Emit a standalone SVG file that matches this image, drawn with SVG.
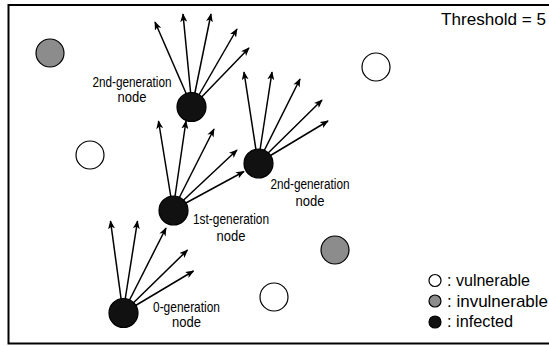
<svg xmlns="http://www.w3.org/2000/svg" width="549" height="346" viewBox="0 0 549 346">
<style>
.lbl{font-family:"Liberation Sans Narrow","Liberation Sans",Arial,sans-serif;font-size:14px;fill:#000}
.big{font-family:"Liberation Sans Narrow","Liberation Sans",Arial,sans-serif;font-size:17px;fill:#000}
.inf{fill:#111;stroke:#000;stroke-width:1.2}
.vul{fill:#fff;stroke:#000;stroke-width:1.2}
.inv{fill:#8c8c8c;stroke:#000;stroke-width:1.2}
.arr{stroke:#000;stroke-width:1.5;fill:none;marker-end:url(#ah)}
</style>
<defs>
<marker id="ah" viewBox="0 0 10 8" refX="9" refY="4" markerWidth="9" markerHeight="7" markerUnits="userSpaceOnUse" orient="auto">
<path d="M0,0 L10,4 L0,8 L2.5,4 Z" fill="#000"/>
</marker>
</defs>
<rect width="549" height="346" fill="#fff"/>
<path d="M549,5 H8.5 V343.5 H549" fill="none" stroke="#000" stroke-width="2"/>
<text class="big" x="441" y="25" textLength="105" lengthAdjust="spacingAndGlyphs">Threshold = 5</text>
<g id="connectors">
<line class="arr" x1="123" y1="313" x2="110.5" y2="221"/>
<line class="arr" x1="123" y1="313" x2="137.5" y2="221"/>
<line class="arr" x1="123" y1="313" x2="166" y2="228"/>
<line class="arr" x1="123" y1="313" x2="187.5" y2="250"/>
<line class="arr" x1="123" y1="313" x2="193.5" y2="271"/>
<line class="arr" x1="173" y1="210" x2="158.5" y2="121"/>
<line class="arr" x1="173" y1="210" x2="186" y2="121"/>
<line class="arr" x1="173" y1="210" x2="214" y2="129"/>
<line class="arr" x1="173" y1="210" x2="237" y2="150"/>
<line class="arr" x1="173" y1="210" x2="244" y2="171.5"/>
<line class="arr" x1="192" y1="107" x2="155" y2="22"/>
<line class="arr" x1="192" y1="107" x2="183" y2="14"/>
<line class="arr" x1="192" y1="107" x2="211" y2="14"/>
<line class="arr" x1="192" y1="107" x2="237" y2="29"/>
<line class="arr" x1="192" y1="107" x2="249" y2="48"/>
<line class="arr" x1="258" y1="163" x2="244" y2="72"/>
<line class="arr" x1="258" y1="163" x2="272" y2="72"/>
<line class="arr" x1="258" y1="163" x2="300" y2="79"/>
<line class="arr" x1="258" y1="163" x2="322" y2="100"/>
<line class="arr" x1="258" y1="163" x2="328" y2="121"/>
</g>
<g id="node-gen0">
<circle class="inf" cx="123.5" cy="313" r="14.5"/>
<text class="lbl" x="186.5" y="311.5" text-anchor="middle" textLength="67" lengthAdjust="spacingAndGlyphs">0-generation</text>
<text class="lbl" x="186.5" y="326.5" text-anchor="middle" textLength="29" lengthAdjust="spacingAndGlyphs">node</text>
</g>
<g id="node-gen1">
<circle class="inf" cx="173.5" cy="210.5" r="14.5"/>
<text class="lbl" x="231" y="224" text-anchor="middle" textLength="76" lengthAdjust="spacingAndGlyphs">1st-generation</text>
<text class="lbl" x="231" y="240.5" text-anchor="middle" textLength="29" lengthAdjust="spacingAndGlyphs">node</text>
</g>
<g id="node-gen2a">
<circle class="inf" cx="191.5" cy="107" r="14.5"/>
<text class="lbl" x="132" y="87" text-anchor="middle" textLength="79" lengthAdjust="spacingAndGlyphs">2nd-generation</text>
<text class="lbl" x="132" y="101.5" text-anchor="middle" textLength="29" lengthAdjust="spacingAndGlyphs">node</text>
</g>
<g id="node-gen2b">
<circle class="inf" cx="258.5" cy="163.5" r="14.5"/>
<text class="lbl" x="310" y="189" text-anchor="middle" textLength="79" lengthAdjust="spacingAndGlyphs">2nd-generation</text>
<text class="lbl" x="310" y="205.5" text-anchor="middle" textLength="29" lengthAdjust="spacingAndGlyphs">node</text>
</g>
<g id="node-inv1"><circle class="inv" cx="50" cy="53" r="14"/></g>
<g id="node-inv2"><circle class="inv" cx="335" cy="250" r="14"/></g>
<g id="node-vul1"><circle class="vul" cx="90" cy="155" r="14"/></g>
<g id="node-vul2"><circle class="vul" cx="376" cy="67" r="14"/></g>
<g id="node-vul3"><circle class="vul" cx="274" cy="297" r="14"/></g>
<g id="legend">
<circle class="vul" cx="435" cy="280.5" r="6"/>
<text class="big" x="447" y="285.5" textLength="83" lengthAdjust="spacingAndGlyphs">: vulnerable</text>
<circle class="inv" cx="435" cy="301" r="6"/>
<text class="big" x="447" y="306.5" textLength="101" lengthAdjust="spacingAndGlyphs">: invulnerable</text>
<circle class="inf" cx="435" cy="322" r="6"/>
<text class="big" x="447" y="327" textLength="66" lengthAdjust="spacingAndGlyphs">: infected</text>
</g>
</svg>
